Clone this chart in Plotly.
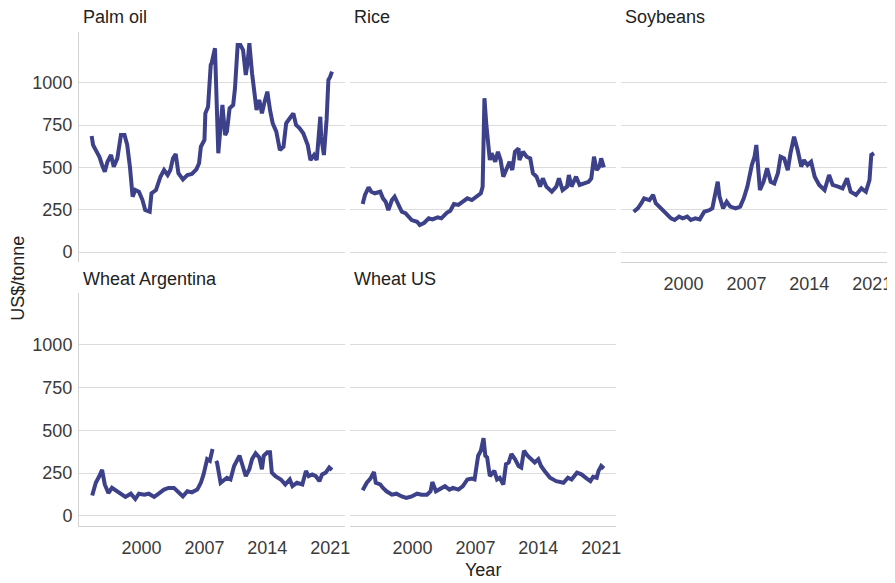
import plotly.graph_objects as go

# ---------------- data ----------------
palm_years = [1994.44, 1994.6, 1994.9, 1995.3, 1995.6, 1995.9, 1996.2, 1996.6, 1996.9, 1997.3,
              1997.7, 1998.1, 1998.4, 1998.7, 1999.0, 1999.3, 1999.7, 2000.1, 2000.4, 2000.9,
              2001.1, 2001.6, 2002.1, 2002.5, 2002.9, 2003.2, 2003.5, 2003.8, 2004.1, 2004.6,
              2005.1, 2005.6, 2006.1, 2006.4, 2006.6, 2007.0, 2007.1, 2007.4, 2007.7, 2007.8,
              2008.17, 2008.54, 2009.0, 2009.3, 2009.5, 2009.8, 2010.2, 2010.4, 2010.7, 2011.0,
              2011.3, 2011.6, 2011.8, 2012.0, 2012.3, 2012.6, 2012.8, 2013.1, 2013.4, 2013.7,
              2014.0, 2014.3, 2014.6, 2015.0, 2015.4, 2015.8, 2016.1, 2016.5, 2016.9, 2017.2,
              2017.6, 2018.0, 2018.5, 2018.8, 2019.2, 2019.5, 2019.9, 2020.0, 2020.3, 2020.6,
              2020.8, 2021.0, 2021.2]
palm_values = [685, 632, 602, 563, 514, 474, 533, 573, 504, 553,
               691, 691, 632, 504, 327, 366, 356, 307, 248, 238,
               347, 366, 445, 484, 455, 484, 553, 579, 465, 429,
               455, 461, 488, 524, 622, 662, 819, 858, 1105, 1115,
               1203, 583, 868, 691, 711, 849, 868, 967, 1223, 1223,
               1193, 1045, 1115, 1233, 1056, 917, 839, 898, 819, 888,
               947, 839, 760, 711, 602, 622, 760, 790, 819, 750,
               731, 701, 632, 543, 573, 543, 799, 681, 573, 780,
               1016, 1035, 1065]

rice_years = [1994.44, 1994.7, 1995.1, 1995.4, 1995.8, 1996.4, 1996.7, 1997.0, 1997.3, 1997.7,
              1998.0, 1998.4, 1998.8, 1999.2, 1999.5, 1999.9, 2000.5, 2000.8, 2001.3, 2001.8,
              2002.2, 2002.8, 2003.2, 2003.8, 2004.2, 2004.6, 2005.1, 2005.6, 2006.1, 2006.6,
              2007.1, 2007.6, 2007.8, 2007.9, 2008.0, 2008.2, 2008.4, 2008.6, 2008.8, 2009.2,
              2009.5, 2009.8, 2010.1, 2010.5, 2010.8, 2011.1, 2011.4, 2011.8, 2011.9, 2012.3,
              2012.7, 2013.1, 2013.4, 2013.8, 2014.2, 2014.5, 2014.9, 2015.5, 2016.0, 2016.3,
              2016.7, 2017.2, 2017.4, 2017.7, 2018.2, 2018.6, 2019.0, 2019.6, 2019.9, 2020.2,
              2020.5, 2020.8, 2021.0, 2021.3]
rice_values = [284, 337, 382, 356, 347, 356, 317, 297, 248, 307,
               327, 288, 238, 229, 209, 189, 179, 160, 173, 199,
               193, 205, 199, 232, 244, 284, 278, 297, 317, 307,
               327, 347, 386, 880, 908, 760, 662, 543, 583, 533,
               592, 543, 445, 504, 533, 484, 592, 612, 543, 592,
               563, 553, 465, 445, 386, 435, 386, 356, 386, 435,
               366, 386, 455, 386, 445, 396, 406, 415, 435, 563,
               484, 504, 553, 500]

soy_years = [1994.44, 1994.9, 1995.3, 1995.6, 1996.2, 1996.6, 1996.9, 1997.3, 1997.7, 1998.0,
             1998.6, 1999.0, 1999.5, 1999.9, 2000.4, 2000.8, 2001.3, 2001.8, 2002.3, 2002.9,
             2003.2, 2003.5, 2003.8, 2004.0, 2004.4, 2004.8, 2005.2, 2005.8, 2006.3, 2006.7,
             2007.1, 2007.6, 2007.9, 2008.1, 2008.3, 2008.5, 2008.9, 2009.3, 2009.7, 2010.1,
             2010.5, 2010.8, 2011.2, 2011.6, 2011.9, 2012.3, 2012.7, 2013.1, 2013.4, 2013.8,
             2014.2, 2014.6, 2015.1, 2015.7, 2016.2, 2016.6, 2017.2, 2017.7, 2018.2, 2018.6,
             2019.2, 2019.8, 2020.3, 2020.7, 2020.9, 2021.2]
soy_values = [238, 258, 288, 317, 307, 337, 288, 268, 248, 229,
              199, 189, 209, 199, 209, 189, 199, 193, 238, 248,
              258, 337, 415, 327, 258, 297, 268, 258, 268, 317,
              386, 514, 563, 632, 494, 366, 415, 494, 415, 405,
              465, 563, 553, 484, 583, 681, 602, 504, 543, 514,
              533, 445, 396, 366, 455, 396, 386, 376, 435, 356,
              337, 376, 356, 425, 573, 583]

wheat_arg_years = [1994.5, 1994.9, 1995.3, 1995.6, 1995.9, 1996.3, 1996.7, 1997.2, 1997.7, 1998.2,
                   1998.8, 1999.3, 1999.7, 2000.3, 2000.8, 2001.4, 2001.9, 2002.5, 2003.0, 2003.6,
                   2004.2, 2004.6, 2005.1, 2005.6, 2006.2, 2006.6, 2006.9, 2007.3, 2007.6, 2007.9,
                   2008.1, 2008.3, 2008.4, 2008.8, 2009.2, 2009.5, 2009.9, 2010.3, 2010.7, 2010.9,
                   2011.2, 2011.6, 2012.0, 2012.3, 2012.7, 2013.1, 2013.4, 2013.6, 2014.0, 2014.3,
                   2014.5, 2014.9, 2015.5, 2016.0, 2016.5, 2016.8, 2017.3, 2017.9, 2018.3, 2018.6,
                   2019.0, 2019.4, 2019.8, 2020.1, 2020.5, 2020.9, 2021.2]
wheat_arg_values = [119, 194, 233, 269, 184, 134, 164, 144, 124, 111,
                    130, 99, 130, 124, 130, 111, 130, 154, 164, 164,
                    134, 114, 144, 138, 154, 194, 243, 332, 322, 391,
                    None, 322, 312, 194, 213, 223, 213, 292, 332, 352,
                    302, 233, 273, 332, 366, 342, 273, 352, 372, 372,
                    253, 233, 213, 184, 213, 174, 194, 184, 263, 233,
                    243, 233, 203, 243, 253, 283, 269]

wheat_us_years = [1994.44, 1994.9, 1995.3, 1995.7, 1995.9, 1996.4, 1996.7, 1997.1, 1997.7, 1998.2,
                  1998.8, 1999.3, 1999.9, 2000.5, 2001.0, 2001.6, 2002.0, 2002.2, 2002.6, 2003.0,
                  2003.6, 2004.1, 2004.5, 2005.1, 2005.6, 2006.1, 2006.6, 2006.9, 2007.3, 2007.6,
                  2007.9, 2008.1, 2008.3, 2008.6, 2009.1, 2009.4, 2009.7, 2010.1, 2010.4, 2010.7,
                  2011.0, 2011.4, 2011.8, 2012.1, 2012.4, 2012.8, 2013.3, 2013.6, 2014.0, 2014.3,
                  2014.7, 2015.3, 2016.0, 2016.8, 2017.3, 2017.7, 2018.3, 2018.8, 2019.4, 2019.8,
                  2020.1, 2020.5, 2020.7, 2021.0, 2021.3]
wheat_us_values = [150, 194, 218, 257, 194, 184, 164, 144, 124, 130,
                   114, 105, 114, 130, 124, 124, 144, 198, 144, 154,
                   174, 154, 164, 154, 174, 213, 218, 213, 352, 381,
                   455, 352, 342, 233, 263, 213, 223, 184, 302, 312,
                   362, 332, 292, 283, 381, 352, 322, 312, 332, 292,
                   263, 223, 203, 194, 223, 213, 253, 243, 218, 203,
                   229, 223, 263, 292, 277]

panel_titles = ["Palm oil", "Rice", "Soybeans", "Wheat Argentina", "Wheat US"]
x_tick_labels = ["2000", "2007", "2014", "2021"]
x_tick_values = [2000, 2007, 2014, 2021]
y_tick_values = [0, 250, 500, 750, 1000]
y_tick_labels = ["0", "250", "500", "750", "1000"]

series = [
    (palm_years, palm_values),
    (rice_years, rice_values),
    (soy_years, soy_values),
    (wheat_arg_years, wheat_arg_values),
    (wheat_us_years, wheat_us_values),
]

# ---------------- layout geometry ----------------
# The page body has an 8px margin, so the plot div starts at (8, 8) of the window.
OFF = 8
W, H = 895 - OFF, 583 - OFF
col_px = [(79, 345), (350, 616), (621, 887)]          # window pixels
row_px = [(31.7, 261.7), (293.3, 525.7)]              # window pixels
positions = [(0, 0), (0, 1), (0, 2), (1, 0), (1, 1)]
bottom_panels = {2, 3, 4}


def fx(px):
    return (px - OFF) / W


def fy(py):
    return 1 - (py - OFF) / H


LINE_COLOR = "#3d418a"
FONT = "Liberation Sans, Arial, sans-serif"
GRID = "#dcdcdc"
AXIS_LINE = "#d2d2d2"
TICK_COLOR = "#3a3a3a"

fig = go.Figure()
layout = dict(
    width=W, height=H,
    margin=dict(l=0, r=0, t=0, b=0, autoexpand=False),
    paper_bgcolor="white", plot_bgcolor="white",
    showlegend=False,
    font=dict(family=FONT, size=18, color="#222222"),
)
annotations = []

for i, ((yrs, vals), title, (r, c)) in enumerate(zip(series, panel_titles, positions)):
    n = i + 1
    xa = "xaxis" if n == 1 else f"xaxis{n}"
    ya = "yaxis" if n == 1 else f"yaxis{n}"
    xref = "x" if n == 1 else f"x{n}"
    yref = "y" if n == 1 else f"y{n}"
    fig.add_trace(go.Scatter(
        x=yrs, y=vals, mode="lines", xaxis=xref, yaxis=yref,
        line=dict(color=LINE_COLOR, width=4), connectgaps=False,
        hoverinfo="x+y", name=title,
    ))
    c0, c1 = col_px[c]
    r0, r1 = row_px[r]
    layout[xa] = dict(
        domain=[fx(c0), fx(c1)], anchor=yref, automargin=False,
        range=[1993.03, 2022.65],
        tickvals=x_tick_values, ticktext=x_tick_labels,
        showticklabels=(i in bottom_panels),
        showgrid=False, zeroline=False,
        showline=(i in bottom_panels), linecolor=AXIS_LINE, linewidth=1,
        ticks="", tickfont=dict(family=FONT, size=18, color=TICK_COLOR),
        ticklabelstandoff=6,
    )
    layout[ya] = dict(
        domain=[fy(r1), fy(r0)], anchor=xref, automargin=False,
        range=[-57, 1301],
        tickvals=y_tick_values, ticktext=y_tick_labels,
        showticklabels=(c == 0),
        showgrid=True, gridcolor=GRID, gridwidth=1,
        zeroline=False,
        showline=(c == 0), linecolor=AXIS_LINE, linewidth=1,
        ticks="", tickfont=dict(family=FONT, size=18, color=TICK_COLOR),
        ticklabelstandoff=2,
    )
    annotations.append(dict(
        text=title, x=fx(c0 + 2), y=fy(r0 - 14.5),
        xref="paper", yref="paper", xanchor="left", yanchor="middle",
        showarrow=False, font=dict(family=FONT, size=18, color="#222222"),
    ))

annotations.append(dict(
    text="US$/tonne", x=fx(18), y=fy(278.7), xref="paper", yref="paper",
    xanchor="center", yanchor="middle", textangle=-90, showarrow=False,
    font=dict(family=FONT, size=18, color="#222222"),
))
annotations.append(dict(
    text="Year", x=fx(483), y=fy(570), xref="paper", yref="paper",
    xanchor="center", yanchor="middle", showarrow=False,
    font=dict(family=FONT, size=18, color="#222222"),
))
layout["annotations"] = annotations
fig.update_layout(**layout)
fig.write_html("out.html")
